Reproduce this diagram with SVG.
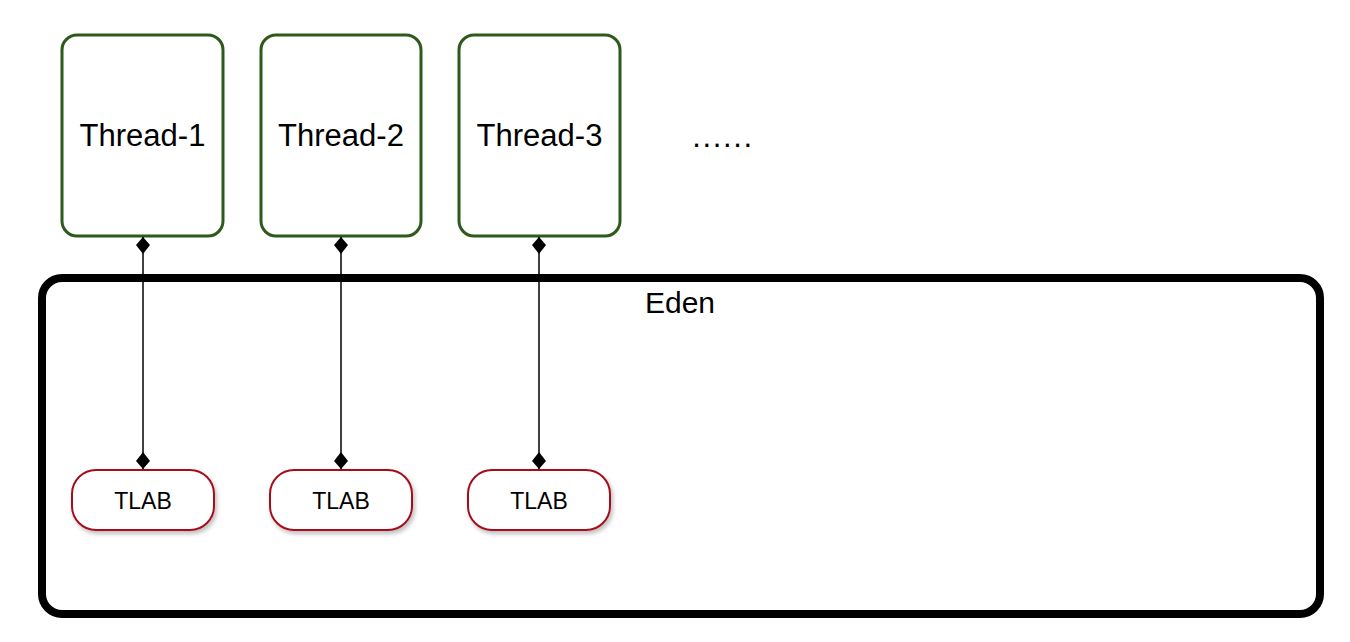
<svg xmlns="http://www.w3.org/2000/svg" width="1350" height="642" viewBox="0 0 1350 642">
<style>
.thread{fill:#fff;stroke:#2d5a1b;stroke-width:3}
.tlab{fill:#fff;stroke:#a3111e;stroke-width:2;filter:url(#sh)}
.eden{fill:#fff;stroke:#000;stroke-width:8}
.t{font-family:"Liberation Sans",Arial,sans-serif;fill:#000;text-anchor:middle}
.conn{stroke:#000;stroke-width:1.5;fill:none}
</style>
<defs>
<filter id="sh" x="-20%" y="-20%" width="140%" height="160%">
<feDropShadow dx="2" dy="3" stdDeviation="2" flood-color="#000" flood-opacity="0.25"/>
</filter>
</defs>
<rect width="1350" height="642" fill="#fff"/>
<g id="eden">
<rect class="eden" x="42" y="278" width="1278" height="336" rx="20"/>
<text class="t" x="680" y="313" font-size="30">Eden</text>
</g>
<g id="thread-1">
<rect class="thread" x="62" y="35" width="161" height="201" rx="15"/>
<text class="t" x="142.5" y="146" font-size="31">Thread-1</text>
</g>
<g id="thread-2">
<rect class="thread" x="261" y="35" width="160" height="201" rx="15"/>
<text class="t" x="341" y="146" font-size="31">Thread-2</text>
</g>
<g id="thread-3">
<rect class="thread" x="459" y="35" width="161" height="201" rx="15"/>
<text class="t" x="539.5" y="146" font-size="31">Thread-3</text>
</g>
<g id="ellipsis">
<text class="t" x="723" y="147" font-size="31" letter-spacing="1.6">......</text>
</g>
<g id="tlab-1">
<rect class="tlab" x="72" y="470" width="142" height="60" rx="24"/>
<text class="t" x="143" y="509" font-size="23">TLAB</text>
</g>
<g id="tlab-2">
<rect class="tlab" x="270" y="470" width="142" height="60" rx="24"/>
<text class="t" x="341" y="509" font-size="23">TLAB</text>
</g>
<g id="tlab-3">
<rect class="tlab" x="468" y="470" width="142" height="60" rx="24"/>
<text class="t" x="539" y="509" font-size="23">TLAB</text>
</g>
<g id="connectors">
<path class="conn" d="M143,237 L143,469"/>
<path class="conn" d="M341,237 L341,469"/>
<path class="conn" d="M539,237 L539,469"/>
<g fill="#000">
<path d="M143,237 L150,245 L143,254 L136,245 Z"/>
<path d="M143,469 L150,461 L143,452 L136,461 Z"/>
<path d="M341,237 L348,245 L341,254 L334,245 Z"/>
<path d="M341,469 L348,461 L341,452 L334,461 Z"/>
<path d="M539,237 L546,245 L539,254 L532,245 Z"/>
<path d="M539,469 L546,461 L539,452 L532,461 Z"/>
</g>
</g>
</svg>
